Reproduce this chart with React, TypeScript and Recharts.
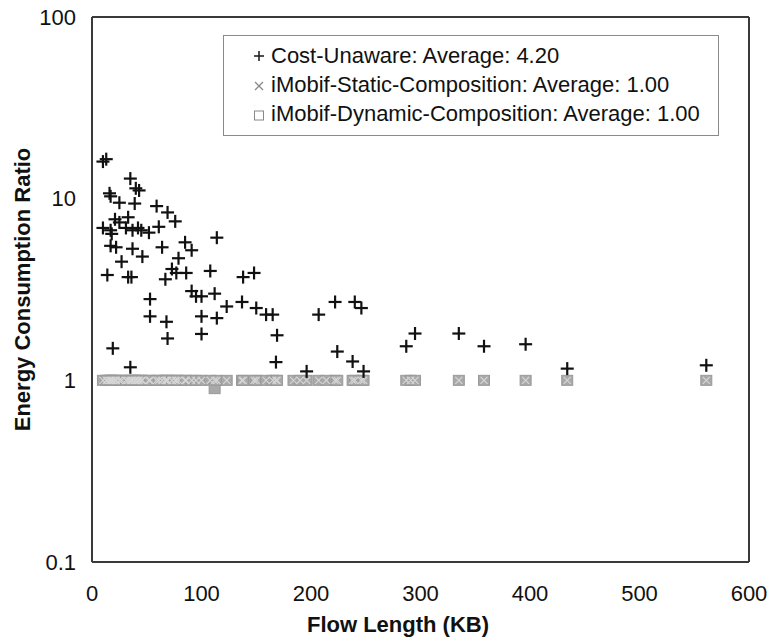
import {
  ScatterChart,
  Scatter,
  XAxis,
  YAxis,
  Legend,
  ReferenceLine,
  Label,
} from "recharts";

// flow length (KB) and cost-unaware ratio, one entry per "+" mark
const flowLength = [
  10, 10, 13, 14, 16, 17, 17, 17, 18, 19, 21, 22, 25, 25, 27, 31, 33, 33, 35, 35,
  36, 37, 37, 39, 40, 42, 43, 45, 46, 52, 53, 53, 59, 61, 64, 67, 68, 69, 69, 73,
  76, 77, 79, 85, 86, 91, 91, 95, 100, 100, 100, 108, 112, 114, 114, 123, 137, 138,
  148, 150, 159, 165, 168, 169, 196, 207, 222, 224, 238, 240, 246, 248, 287, 295,
  335, 358, 396, 434, 561,
];
const costUnaware = [
  16.0, 6.9, 16.5, 3.8, 10.7, 10.3, 6.7, 5.5, 6.4, 1.5, 7.7, 5.4, 9.5, 7.4, 4.5, 6.9,
  7.9, 3.7, 12.9, 1.18, 3.7, 6.7, 5.3, 9.4, 11.4, 6.9, 11.1, 6.7, 4.8, 6.5, 2.8, 2.25,
  9.1, 7.0, 5.4, 3.6, 2.1, 8.4, 1.7, 4.1, 7.5, 3.9, 4.7, 5.75, 3.9, 5.2, 3.1, 2.9, 2.9,
  2.25, 1.8, 4.0, 3.0, 6.1, 2.2, 2.55, 2.7, 3.7, 3.9, 2.5, 2.3, 2.3, 1.26, 1.77, 1.12,
  2.3, 2.7, 1.44, 1.27, 2.7, 2.5, 1.12, 1.54, 1.81, 1.81, 1.54, 1.58, 1.16, 1.21,
];

// flows for the two iMobif compositions
const compositionLength = [
  10, 13, 14, 16, 17, 18, 19, 21, 22, 25, 27, 31, 33, 35, 36, 37, 39, 40, 42, 43, 45,
  46, 52, 53, 59, 61, 64, 67, 68, 69, 73, 76, 77, 79, 85, 86, 91, 95, 100, 108, 112,
  114, 123, 137, 138, 148, 150, 159, 165, 168, 169, 184, 190, 196, 207, 214, 222, 224,
  238, 240, 246, 248, 287, 291, 295, 335, 358, 396, 434, 561,
];
const staticRatio = compositionLength.map(() => 1);
const dynamicRatio = compositionLength.map((len) => (len === 112 ? 0.9 : 1));

const seriesNames = [
  "Cost-Unaware: Average: 4.20",
  "iMobif-Static-Composition: Average: 1.00",
  "iMobif-Dynamic-Composition: Average: 1.00",
];

const lengthTicks = [0, 100, 200, 300, 400, 500, 600];
const minorLengthTicks = lengthTicks
  .slice(0, -1)
  .flatMap((t) => [t + 20, t + 40, t + 60, t + 80]);
const ratioTicks = [0.1, 1, 10, 100];
const minorRatioTicks = [0.1, 1, 10].flatMap((d) =>
  [2, 3, 4, 5, 6, 7, 8, 9].map((m) => +(d * m).toFixed(1))
);

const costRows = flowLength.map((length, i) => ({ length, ratio: costUnaware[i] }));
const staticRows = compositionLength.map((length, i) => ({ length, ratio: staticRatio[i] }));
const dynamicRows = compositionLength.map((length, i) => ({ length, ratio: dynamicRatio[i] }));

const FONT = '"Liberation Sans", Arial, Helvetica, sans-serif';
const AXIS = "#3a3a3a";

const PlusMark = ({ cx, cy }: any) => (
  <g stroke="#111" strokeWidth={2.2}>
    <line x1={cx - 6.5} y1={cy} x2={cx + 6.5} y2={cy} />
    <line x1={cx} y1={cy - 6.5} x2={cx} y2={cy + 6.5} />
  </g>
);

const CrossMark = ({ cx, cy }: any) => (
  <g stroke="#d6d6d6" strokeWidth={1.2}>
    <line x1={cx - 3.5} y1={cy - 3.5} x2={cx + 3.5} y2={cy + 3.5} />
    <line x1={cx - 3.5} y1={cy + 3.5} x2={cx + 3.5} y2={cy - 3.5} />
  </g>
);

const SquareMark = ({ cx, cy }: any) => (
  <rect x={cx - 5.5} y={cy - 5} width={11} height={10} fill="#a9a9a9" stroke="#9a9a9a" />
);

const legendIcons = [
  <g stroke="#222" strokeWidth={1.6}>
    <line x1={1} y1={8} x2={11} y2={8} />
    <line x1={6} y1={3} x2={6} y2={13} />
  </g>,
  <g stroke="#888" strokeWidth={1.3}>
    <line x1={2} y1={5} x2={10} y2={13} />
    <line x1={2} y1={13} x2={10} y2={5} />
  </g>,
  <rect x={1.5} y={5} width={9} height={9} fill="none" stroke="#888" strokeWidth={1} />,
];

const LegendBox = () => (
  <div
    style={{
      border: "1px solid #8a8a8a",
      background: "#fff",
      padding: "5px 0 7px 29px",
      fontFamily: FONT,
      fontSize: 22,
      color: "#111",
      boxSizing: "border-box",
    }}
  >
    {seriesNames.map((name, i) => (
      <div key={name} style={{ display: "flex", alignItems: "center", height: 29 }}>
        <svg width={12} height={16} style={{ marginRight: 6 }}>
          {legendIcons[i]}
        </svg>
        <span>{name}</span>
      </div>
    ))}
  </div>
);

export default function App() {
  return (
    <div style={{ position: "absolute", left: 0, top: 0, background: "#fff" }}>
      <ScatterChart
        width={771}
        height={639}
        margin={{ top: 17, right: 22, bottom: 0, left: 0 }}
      >
        <XAxis
          dataKey="length"
          type="number"
          domain={[0, 600]}
          ticks={lengthTicks}
          allowDataOverflow
          height={77}
          stroke={AXIS}
          strokeWidth={2}
          tickLine={false}
          tickSize={0}
          tickMargin={23}
          tick={{ fill: "#111", fontSize: 22, fontFamily: FONT }}
        >
          <Label
            content={({ viewBox }: any) => (
              <text
                x={398}
                y={viewBox.y + 62}
                textAnchor="middle"
                dominantBaseline="central"
                fontFamily={FONT}
                fontSize={22}
                fontWeight="bold"
                fill="#111"
              >
                Flow Length (KB)
              </text>
            )}
          />
        </XAxis>
        <XAxis
          xAxisId="minor"
          type="number"
          domain={[0, 600]}
          ticks={minorLengthTicks}
          allowDataOverflow
          height={0}
          mirror
          axisLine={false}
          tick={false}
          tickSize={4}
          tickLine={{ stroke: "#999" }}
        />
        <YAxis
          dataKey="ratio"
          type="number"
          scale="log"
          domain={[0.1, 100]}
          ticks={ratioTicks}
          allowDataOverflow
          width={92}
          stroke={AXIS}
          strokeWidth={2}
          tickLine={false}
          tickSize={0}
          tickMargin={16}
          tick={{ fill: "#111", fontSize: 22, fontFamily: FONT }}
        >
          <Label
            content={({ viewBox }: any) => {
              const cy = viewBox.y + viewBox.height / 2;
              return (
                <text
                  x={22}
                  y={cy}
                  transform={`rotate(-90, 22, ${cy})`}
                  textAnchor="middle"
                  dominantBaseline="central"
                  fontFamily={FONT}
                  fontSize={22}
                  fontWeight="bold"
                  fill="#111"
                >
                  Energy Consumption Ratio
                </text>
              );
            }}
          />
        </YAxis>
        <YAxis
          yAxisId="minor"
          type="number"
          scale="log"
          domain={[0.1, 100]}
          ticks={minorRatioTicks}
          allowDataOverflow
          width={0}
          mirror
          axisLine={false}
          tick={false}
          tickSize={4}
          tickLine={{ stroke: "#999" }}
        />
        <ReferenceLine y={100} stroke={AXIS} strokeWidth={2} />
        <ReferenceLine x={600} stroke={AXIS} strokeWidth={2} />
        <Legend
          layout="vertical"
          align="center"
          verticalAlign="middle"
          content={<LegendBox />}
          wrapperStyle={{ left: 223, top: 35, width: 496 }}
        />
        <Scatter
          name={seriesNames[2]}
          data={dynamicRows}
          shape={SquareMark}
          isAnimationActive={false}
        />
        <Scatter
          name={seriesNames[1]}
          data={staticRows}
          shape={CrossMark}
          isAnimationActive={false}
        />
        <Scatter
          name={seriesNames[0]}
          data={costRows}
          shape={PlusMark}
          isAnimationActive={false}
        />
      </ScatterChart>
    </div>
  );
}
